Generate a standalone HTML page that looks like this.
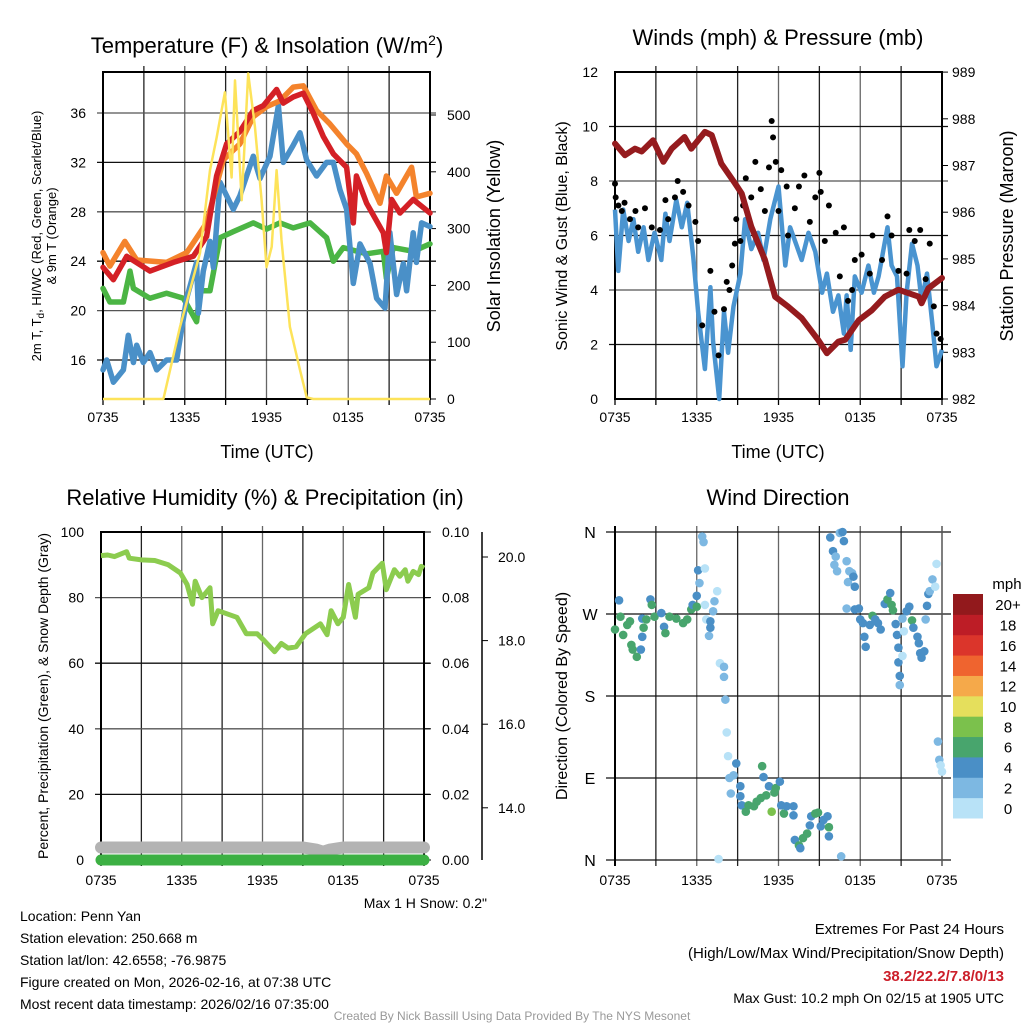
<!DOCTYPE html>
<html><head><meta charset="utf-8"><style>
body{margin:0;background:#fff;}
svg{display:block;font-family:"Liberation Sans",Arial,sans-serif;}
</style></head><body>
<svg id="c" width="1024" height="1024" viewBox="0 0 1024 1024" xmlns="http://www.w3.org/2000/svg"></svg>
<script>
// ---------- DATA ----------
const xTickLabels=["0735","1335","1935","0135","0735"];
// Panel 1 (hours since 0735, °F)
const redT=[0,0.76,1.74,3.45,5.16,6.63,7.6,8.34,9.07,10.05,11.03,11.77,12.74,13.23,13.97,14.7,15.43,16.17,16.9,17.88,18.37,18.6,19.35,20.57,20.8,21.18,21.8,22.77,24];
const redV=[23.5,22.5,24.4,23.2,23.9,24.4,26.0,30.9,33.5,34.5,36.2,36.6,37.9,36.8,37.3,37.6,36.0,34.1,32.7,31.6,27.1,30.9,28.7,26.3,24.7,29.0,27.9,29.0,27.9];
const orangeT=[0,0.51,1.6,2.47,4.67,6.14,7.6,8.83,10.05,11.03,12.0,12.99,13.97,14.7,15.68,16.66,17.88,18.6,19.35,20.33,20.8,21.55,22.65,23.0,24];
const orangeV=[24.7,23.6,25.6,24.1,23.9,24.7,27.1,32.2,33.5,35.7,36.5,37.0,38.1,38.2,36.2,35.1,33.5,32.7,31.1,28.7,30.9,29.5,31.6,29.2,29.5];
const greenT=[0,0.51,1.5,1.98,2.23,3.45,4.67,5.9,6.87,7.12,7.85,8.59,9.56,11.03,12.0,12.99,13.97,15.2,16.41,16.9,17.64,19.35,20.57,20.8,21.3,22.77,24];
const greenV=[21.8,20.7,20.7,23.2,21.8,21.0,21.4,21.0,19.1,21.6,21.6,25.9,26.4,27.1,26.6,27.1,26.7,27.1,25.9,24.0,25.1,24.6,24.8,22.6,25.1,24.8,25.4];
const blueT=[0,0.27,0.76,1.5,1.86,2.23,2.47,2.96,3.45,3.94,4.67,5.4,6.14,6.87,7.0,7.36,7.85,8.1,8.59,9.07,9.56,10.05,11.03,11.52,12.26,12.87,13.23,13.97,14.46,14.94,15.68,16.41,16.9,17.39,17.88,18.37,18.86,19.6,20.08,20.7,21.06,21.55,22.04,22.28,22.77,23.0,23.38,24];
const blueV=[15.2,16.0,14.2,15.2,18.0,15.8,17.2,15.8,16.6,15.2,16.0,16.0,21.0,23.9,19.8,23.2,25.6,23.5,30.4,29.3,28.2,29.3,32.5,30.7,32.5,36.6,32.0,33.4,34.4,32.2,30.9,32.0,32.0,29.8,28.2,22.2,25.4,23.8,21.0,20.2,26.3,21.3,23.8,21.6,26.3,23.9,27.1,26.8];
const solarT=[0,4.43,5.65,7.12,7.85,8.34,8.95,9.44,9.69,10.18,10.66,11.15,11.64,12.0,12.38,12.74,13.1,13.72,14.46,14.95,15.43,24];
const solarV=[0,0,127,257,403,460,540,390,561,350,573,480,350,232,268,403,280,127,51,3,0,0];
const p1LeftTicks=[16,20,24,28,32,36];
const p1RightTicks=[0,100,200,300,400,500];
// Panel 2
const windT=[0,0.24,0.6,1.0,1.35,1.7,2.1,2.45,2.9,3.4,3.7,4.0,4.5,4.9,5.3,5.75,6.1,6.6,7.0,7.2,7.65,8.0,8.3,8.7,9.2,9.55,10.0,10.5,10.9,11.4,12.0,12.5,12.85,13.35,13.7,14.2,14.7,15.2,15.55,16.0,16.4,16.8,17.0,17.3,17.6,18.1,18.6,19.0,19.35,20.0,20.3,20.7,21.1,21.4,21.8,22.2,22.5,22.9,23.3,23.6,24];
const windV=[6.95,4.7,6.95,5.8,6.6,5.4,6.3,5.1,6.1,5.1,6.8,5.8,7.3,6.3,7.2,5.2,3.2,1.1,4.1,2.1,0,3.2,1.7,3.4,4.6,6.6,5.5,6.1,5.1,6.6,7.8,4.9,6.3,5.6,5.1,6.1,5.4,3.9,4.6,3.2,3.8,2.4,3.8,1.8,4.5,3.9,4.9,3.9,4.5,6.3,4.9,4.5,1.2,3.9,5.7,4.9,3.6,4.6,2.7,1.2,1.8];
const gustT=[0,0.05,0.25,0.5,0.7,1.1,1.5,1.7,2.2,2.7,3.3,3.7,3.9,4.4,4.6,5.0,5.4,5.9,6.1,6.4,7.0,7.3,7.6,8.0,8.2,8.4,8.6,8.8,8.9,9.2,9.4,9.6,10.0,10.3,10.7,11.0,11.3,11.5,11.6,11.8,12.0,12.2,12.6,12.7,13.2,13.5,13.9,14.3,14.7,15.0,15.1,15.4,15.7,16.2,16.5,16.8,17.1,17.4,17.6,18.1,18.7,18.9,19.6,20.0,20.3,20.8,21.4,21.6,22.0,22.4,22.8,23.1,23.4,23.6,23.9];
const gustV=[7.9,7.4,7.1,6.9,7.2,6.6,6.9,6.3,7.0,6.3,6.2,7.3,6.6,7.4,8.0,7.6,7.1,6.5,5.8,2.7,4.7,3.2,1.6,3.3,4.3,4.0,4.9,5.7,6.6,5.8,7.1,8.1,7.4,8.7,7.7,6.9,8.5,10.2,9.6,8.7,6.9,8.4,7.8,6.0,7.0,7.8,8.2,6.5,7.4,8.3,7.6,5.8,7.1,6.1,4.5,6.3,3.6,4.0,5.1,5.3,4.6,6.0,5.1,6.7,6.0,4.7,4.6,6.2,5.8,6.2,4.4,5.7,3.4,2.4,2.2];
const presT=[0,0.73,1.47,1.96,2.8,3.55,4.16,5.1,5.6,6.6,7.1,7.8,8.8,9.3,10.0,11.0,11.75,12.7,13.7,14.9,15.55,16.4,16.9,17.9,18.85,19.8,20.8,22.3,22.5,23.0,24];
const presV=[987.47,987.22,987.36,987.30,987.54,987.08,987.36,987.61,987.36,987.72,987.65,987.04,986.62,986.40,985.69,984.98,984.19,983.98,983.73,983.27,982.98,983.23,983.27,983.69,983.90,984.19,984.34,984.19,984.05,984.37,984.59];
const p2LeftTicks=[0,2,4,6,8,10,12];
const p2RightTicks=[982,983,984,985,986,987,988,989];
// Panel 3
const rhT=[0,0.5,1.0,1.9,2.1,3.0,4.0,5.0,5.9,6.4,6.8,7.0,7.5,8.1,8.3,8.7,10.1,10.8,11.6,12.1,12.9,13.4,13.9,14.5,15.2,16.3,16.8,17.1,17.6,18.0,18.4,18.9,19.1,19.9,20.2,20.9,21.2,21.8,22.2,22.6,22.8,23.2,23.6,23.8,24];
const rhV=[92.8,93,92.5,94,92,91.5,91.3,90,87.5,84,78,85,80,83,72,76,74,69,69,67,63.5,66,64.6,65,69,72,68.7,76,72,74,84,74,81,83,87.5,90.5,82.4,88.5,86.5,88.5,85,88,87,89.5,89];
const snowT=[0,6,12,15,16,16.5,17,18,19,24];
const snowV=[13.05,13.05,13.05,13.05,13.0,12.95,13.0,13.05,13.05,13.05];
const precipT=[0,24];
const precipV=[0,0];
const p3LeftTicks=[0,20,40,60,80,100];
const p3RightTicks=["0.00","0.02","0.04","0.06","0.08","0.10"];
const snowTicks=[14,16,18,20];
// Panel 4
const dirT=[0,0.3,0.4,0.6,0.9,1.1,1.2,1.3,1.6,1.9,2.0,2.0,2.1,2.3,2.6,2.7,2.9,3.4,3.6,3.7,4.0,4.5,5.0,5.3,5.6,5.7,6.0,6.0,6.1,6.2,6.4,6.5,6.6,6.6,6.7,6.9,7.0,7.0,7.2,7.3,7.5,7.7,8.0,8.0,8.1,8.2,8.3,8.4,8.5,8.7,8.9,9.2,9.2,9.3,9.6,9.8,10.2,10.4,10.7,10.8,10.9,11.1,11.3,11.5,11.7,11.8,12.1,12.2,12.4,12.6,13.1,13.1,13.2,13.5,13.6,13.8,14.1,14.3,14.4,14.7,14.9,15.1,15.3,15.6,15.7,15.7,15.8,16.0,16.1,16.2,16.3,16.6,16.5,16.7,16.8,17.0,17.1,17.2,17.4,17.5,17.6,17.0,17.6,17.9,18.0,18.2,18.3,18.4,18.7,18.9,19.1,19.3,19.5,19.8,20.0,20.2,20.3,20.4,20.6,20.7,20.8,20.8,20.9,20.9,21.1,21.2,21.1,21.4,21.6,21.8,21.9,22.2,22.3,22.4,22.5,22.7,22.8,22.9,23.0,23.1,23.3,23.5,23.6,23.7,23.8,23.9,24.0,7.6];
const dirV=[253,285,267,247,258,262,236,231,223,231,245,265,255,264,286,280,267,271,256,249,267,265,260,264,275,280,278,290,318,304,355,349,320,280,264,246,255,262,273,284,295,216,212,201,176,140,114,90,73,93,106,81,70,60,53,60,59,64,68,103,91,71,81,53,74,79,86,60,51,59,59,49,22,16,13,24,29,38,48,51,52,37,44,48,36,26,354,339,324,333,317,4,359,360,350,328,305,317,315,311,300,276,275,276,264,260,245,234,258,268,264,260,253,281,286,293,280,274,259,247,233,217,202,192,265,251,224,273,278,263,255,245,238,227,222,229,264,279,292,295,308,300,325,130,110,104,97,1];
const dirSpd=[7,5,7,7,7,7,7,7,7,5,5,5,7,7,5,7,7,5,5,7,7,7,7,7,7,5,7,5,5,3,3,3,1,1,1,3,5,5,3,3,1,1,3,3,3,1,1,3,3,3,5,5,5,5,7,7,7,7,7,7,5,7,5,9,7,7,5,5,7,5,5,5,5,7,5,7,7,5,5,7,7,5,5,5,7,5,5,5,3,3,3,3,3,5,5,3,3,3,3,5,5,3,5,5,5,5,5,5,5,7,5,5,5,5,7,5,7,7,5,5,5,5,5,3,3,1,1,5,5,7,5,5,5,5,5,5,3,5,5,3,3,1,1,3,3,1,1,1];
const dirTicks=["N","E","S","W","N"];
const cbLabels=["0","2","4","6","8","10","12","14","16","18","20+"];
const cbColors=["#b8e2f7","#7db8e2","#4a8fc6","#48a56d","#7bc14c","#e5df5c","#f5a94a","#ef642f","#db352b","#bd1d26","#92191c"];

// ---------- DRAW ----------
const NS="http://www.w3.org/2000/svg";
const svg=document.getElementById('c');
function mk(tag,attrs,parent){const e=document.createElementNS(NS,tag);for(const k in attrs)e.setAttribute(k,attrs[k]);(parent||svg).appendChild(e);return e;}
function txt(s,x,y,size,anchor,parent,extra){const e=mk('text',Object.assign({x:x,y:y,'font-size':size,'text-anchor':anchor||'middle',fill:'#000'},extra||{}),parent);e.textContent=s;return e;}
function pathD(T,V,sx,sy){return T.map((t,i)=>(i?'L':'M')+sx(t).toFixed(1)+','+sy(V[i]).toFixed(1)).join('');}

function frame(g,x0,y0,x1,y1,hLines){
  for(let i=1;i<8;i++){const x=x0+(x1-x0)*i/8;mk('line',{x1:x,y1:y0-6,x2:x,y2:y1,stroke:i%2?'#222':'#666','stroke-width':1.3},g);}
  hLines.forEach((y,i)=>mk('line',{x1:x0-6,y1:y,x2:x1+6,y2:y,stroke:i%2?'#555':'#111','stroke-width':1.3},g));
  mk('rect',{x:x0,y:y0,width:x1-x0,height:y1-y0,fill:'none',stroke:'#000','stroke-width':2},g);
  for(let i=0;i<=8;i++){const x=x0+(x1-x0)*i/8;mk('line',{x1:x,y1:y1,x2:x,y2:y1+6,stroke:'#000','stroke-width':1.3},g);}
}
function xLabels(g,x0,x1,y){xTickLabels.forEach((s,i)=>txt(s,x0+(x1-x0)*i/4,y,14,'middle',g));}

// Panel 1
(function(){
  const g=mk('g',{});  
  const x0=103,x1=430,y0=72,y1=399;
  const sx=t=>x0+t/24*(x1-x0), sy=v=>360-(v-16)*12.35, sr=v=>399-v*0.568;
  frame(g,x0,y0,x1,y1,p1LeftTicks.map(sy));
  p1RightTicks.forEach(v=>{mk('line',{x1:x1,y1:sr(v),x2:x1+6,y2:sr(v),stroke:'#000'},g);txt(String(v),447,sr(v)+5,14,'start',g);});
  p1LeftTicks.forEach(v=>txt(String(v),86,sy(v)+5,14,'end',g));
  const series=[[greenT,greenV,'#4bb544','green-dewpoint-line'],[blueT,blueV,'#4a90c8','blue-windchill-line'],[orangeT,orangeV,'#f4832c','orange-9m-temp-line'],[redT,redV,'#d42026','red-2m-temp-line']];
  series.forEach(s=>{const p=mk('path',{d:pathD(s[0],s[1],sx,sy),fill:'none',stroke:s[2],'stroke-width':5.5,'stroke-linejoin':'round','stroke-linecap':'round'},g);});
  const ps=mk('path',{d:pathD(solarT,solarV,sx,sr),fill:'none',stroke:'#fde35a','stroke-width':2.5,'stroke-linejoin':'round'},g);
   
  xLabels(g,x0,x1,422);
  const t=txt('',267,53,22,'middle',g);t.innerHTML='Temperature (F) &amp; Insolation (W/m<tspan dy="-8" font-size="14">2</tspan><tspan dy="8">)</tspan>';
  
  txt('Time (UTC)',267,458,18,'middle',g);
  txt('2m T, T',0,0,13,'middle',g,{transform:'translate(41,236) rotate(-90)'}).innerHTML='2m T, T<tspan dy="3" font-size="10">d</tspan><tspan dy="-3">, HI/WC (Red, Green, Scarlet/Blue)</tspan>';
  txt('& 9m T (Orange)',0,0,13,'middle',g,{transform:'translate(56,236) rotate(-90)'});
  txt('Solar Insolation (Yellow)',0,0,18,'middle',g,{transform:'translate(500,236) rotate(-90)'});
})();

// Panel 2
(function(){
  const g=mk('g',{});  
  const x0=615,x1=942,y0=72,y1=399;
  const sx=t=>x0+t/24*(x1-x0), sy=v=>y1-v*27.25, sp=v=>y1-(v-982)*46.7;
  frame(g,x0,y0,x1,y1,[2,4,6,8,10].map(sy));
  p2LeftTicks.forEach(v=>txt(String(v),598,sy(v)+5,14,'end',g));
  p2RightTicks.forEach(v=>{mk('line',{x1:x1,y1:sp(v),x2:x1+6,y2:sp(v),stroke:'#000'},g);txt(String(v),952,sp(v)+5,14,'start',g);});
  const pw=mk('path',{d:pathD(windT,windV,sx,sy),fill:'none',stroke:'#4a94d0','stroke-width':4.5,'stroke-linejoin':'round'},g);
   
  gustT.forEach((t,i)=>{const c=mk('circle',{cx:sx(t),cy:sy(gustV[i]),r:3,fill:'#000'},g);
     });
  const pp=mk('path',{d:pathD(presT,presV,sx,sp),fill:'none',stroke:'#951b1e','stroke-width':6,'stroke-linejoin':'round','stroke-linecap':'round'},g);
   
  xLabels(g,x0,x1,422);
  txt('Winds (mph) & Pressure (mb)',778,45,22,'middle',g);
  txt('Time (UTC)',778,458,18,'middle',g);
  txt('Sonic Wind & Gust (Blue, Black)',0,0,16,'middle',g,{transform:'translate(567,236) rotate(-90)'});
  txt('Station Pressure (Maroon)',0,0,18,'middle',g,{transform:'translate(1013,236) rotate(-90)'});
})();

// Panel 3
(function(){
  const g=mk('g',{});  
  const x0=101,x1=424,y0=532,y1=860;
  const sx=t=>x0+t/24*(x1-x0), sy=v=>y1-v*3.28, ss=v=>557+(20-v)*41.8, spr=v=>y1-v*3280;
  frame(g,x0,y0,x1,y1,[20,40,60,80].map(sy));
  p3LeftTicks.forEach(v=>txt(String(v),84,sy(v)+5,14,'end',g));
  p3RightTicks.forEach((s,i)=>{const y=sy(i*20);mk('line',{x1:x1,y1:y,x2:x1+7,y2:y,stroke:'#000'},g);txt(s,442,y+5,14,'start',g);});
  mk('line',{x1:482,y1:y0,x2:482,y2:y1,stroke:'#000','stroke-width':1.5},g);
  snowTicks.forEach(v=>{mk('line',{x1:482,y1:ss(v),x2:488,y2:ss(v),stroke:'#000'},g);txt(v.toFixed(1),498,ss(v)+5,14,'start',g);});
  const psn=mk('path',{d:pathD(snowT,snowV,sx,ss),fill:'none',stroke:'#b3b3b3','stroke-width':12,'stroke-linecap':'round'},g);
   
  const ppr=mk('path',{d:pathD(precipT,precipV,sx,spr),fill:'none',stroke:'#3cb043','stroke-width':11,'stroke-linecap':'round'},g);
   
  const prh=mk('path',{d:pathD(rhT,rhV,sx,sy),fill:'none',stroke:'#8ccc4f','stroke-width':5,'stroke-linejoin':'round'},g);
   
  xLabels(g,x0,x1,885);
  txt('Relative Humidity (%) & Precipitation (in)',265,505,22,'middle',g);
  txt('Percent, Precipitation (Green), & Snow Depth (Gray)',0,0,14,'middle',g,{transform:'translate(48,696) rotate(-90)'});
  txt('Max 1 H Snow: 0.2"',487,908,14,'end',g);
})();

// Panel 4
(function(){
  const g=mk('g',{});  
  const x0=615,x1=942,y0=532,y1=860;
  const sx=t=>x0+t/24*(x1-x0), sy=v=>y1-v/360*(y1-y0);
  for(let i=1;i<8;i++){const x=x0+(x1-x0)*i/8;mk('line',{x1:x,y1:y0-6,x2:x,y2:y1+6,stroke:i%2?'#222':'#666','stroke-width':1.3},g);}
  dirTicks.forEach((s,i)=>{const y=sy(i*90);mk('line',{x1:x0-9,y1:y,x2:x1+9,y2:y,stroke:'#111','stroke-width':1.3},g);txt(s,590,y+6,16,'middle',g);});
  mk('line',{x1:x0,y1:y0-6,x2:x0,y2:y1+6,stroke:'#000','stroke-width':2},g);
  mk('line',{x1:x1,y1:y0-6,x2:x1,y2:y1+6,stroke:'#555','stroke-width':1.5},g);
  dirT.forEach((t,i)=>{const ci=Math.min(10,Math.floor(dirSpd[i]/2));const c=mk('circle',{cx:sx(t),cy:sy(dirV[i]),r:4.3,fill:cbColors[ci]},g);
     });
  xLabels(g,x0,x1,885);
  txt('Wind Direction',778,505,22,'middle',g);
  txt('Direction (Colored By Speed)',0,0,16,'middle',g,{transform:'translate(567,696) rotate(-90)'});
  const cb=mk('g',{},g);  
  const bh=(818-594)/11;
  cbColors.forEach((c,i)=>{const y=818-(i+1)*bh;mk('rect',{x:953,y:y,width:30,height:bh+0.5,fill:c},cb);txt(cbLabels[i],1008,y+bh/2+6,15,'middle',cb);});
  txt('mph',1007,589,15,'middle',cb);
})();

// Footer text
const info=["Location: Penn Yan","Station elevation: 250.668 m","Station lat/lon: 42.6558; -76.9875","Figure created on Mon, 2026-02-16, at 07:38 UTC","Most recent data timestamp: 2026/02/16 07:35:00"];
info.forEach((s,i)=>{const t=txt(s,20,921+i*22,14,'start');});
txt('Extremes For Past 24 Hours',1004,934,15,'end');
txt('(High/Low/Max Wind/Precipitation/Snow Depth)',1004,958,15,'end');
const ex=txt('38.2/22.2/7.8/0/13',1004,981,15,'end',null,{fill:'#cc1f2a','font-weight':'bold'});

txt('Max Gust: 10.2 mph On 02/15 at 1905 UTC',1004,1003,14,'end');
txt('Created By Nick Bassill Using Data Provided By The NYS Mesonet',512,1020,12,'middle',null,{fill:'#999'});
</script>
</body></html>
